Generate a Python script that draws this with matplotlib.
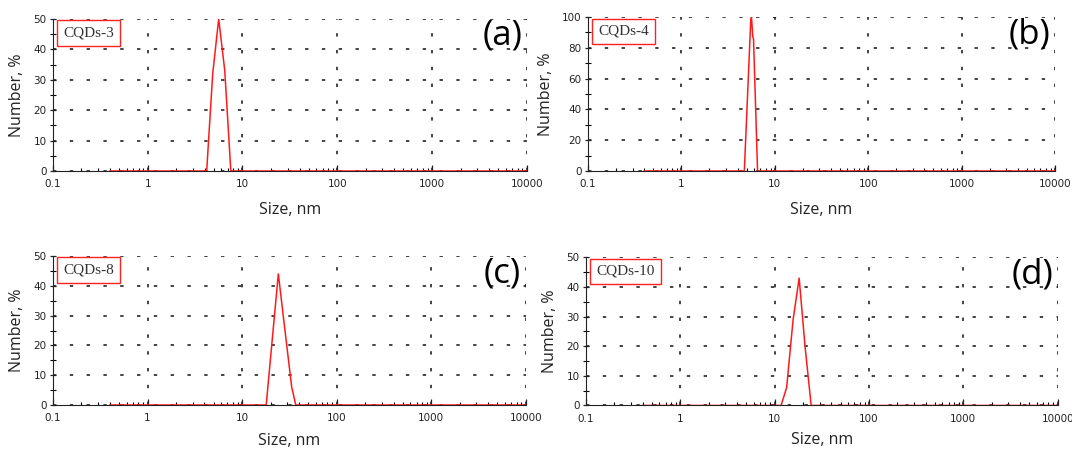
import numpy as np
import matplotlib
matplotlib.use('Agg')
import matplotlib.pyplot as plt
from matplotlib.ticker import FixedLocator, FixedFormatter, MultipleLocator

# DLS number distributions
size_a = [0.4, 4.19, 4.85, 5.61, 6.50, 7.53, 10000]
number_a = [0, 0, 32, 50, 33, 0, 0]

size_b = [0.4, 4.72, 5.53, 5.63, 5.82, 5.92, 6.54, 10000]
number_b = [0, 0, 98, 100, 87, 86, 0, 0]

size_c = [0.4, 18.0, 21.0, 24.2, 28.2, 33.5, 37.0, 10000]
number_c = [0, 0, 23, 44, 26, 6, 0, 0]

size_d = [0.4, 11.7, 13.4, 15.7, 18.2, 21.0, 24.4, 10000]
number_d = [0, 0, 6, 29, 43, 20, 0, 0]

samples = ['CQDs-3', 'CQDs-4', 'CQDs-8', 'CQDs-10']
letters = ['(a)', '(b)', '(c)', '(d)']
ymax = [50, 100, 50, 50]
x_ticks = [0.1, 1, 10, 100, 1000, 10000]
x_labels = ['0.1', '1', '10', '100', '1000', '10000']

panels = [(size_a, number_a), (size_b, number_b), (size_c, number_c), (size_d, number_d)]
# axes boxes in figure fractions [left, bottom, width, height]
boxes = [[0.0494, 0.620, 0.4420, 0.338],
         [0.5485, 0.620, 0.4356, 0.342],
         [0.0494, 0.100, 0.4410, 0.331],
         [0.5466, 0.0990, 0.4400, 0.329]]
xpad = [9, 9, 7, 6]

fig = plt.figure(figsize=(10.72, 4.5), dpi=100)
dots = (0, (2.2, 8.8))

for i in range(4):
    ax = fig.add_axes(boxes[i])
    x, y = panels[i]
    ax.plot(x, y, color='#ff1a1a', lw=1.1, zorder=3)
    ax.set_xscale('log')
    ax.set_xlim(0.1, 10000)
    ax.set_ylim(0, ymax[i])

    ax.xaxis.set_major_locator(FixedLocator(x_ticks))
    ax.xaxis.set_major_formatter(FixedFormatter(x_labels))
    ax.xaxis.set_minor_locator(FixedLocator([m * d for d in [0.1, 1, 10, 100, 1000] for m in range(2, 10)]))
    ax.yaxis.set_major_locator(MultipleLocator(ymax[i] / 5))
    ax.yaxis.set_minor_locator(MultipleLocator(ymax[i] / 10))

    ax.tick_params(axis='x', which='major', direction='in', length=4, width=0.9, labelsize=7.5, pad=6, colors='#222222')
    ax.tick_params(axis='x', which='minor', direction='in', length=2.5, width=0.8)
    ax.tick_params(axis='y', which='major', direction='inout', length=5, width=0.9, labelsize=7.5, pad=2, colors='#222222')
    ax.tick_params(axis='y', which='minor', direction='inout', length=4, width=0.8)

    ax.spines['top'].set_visible(False)
    ax.spines['right'].set_visible(False)
    ax.spines['left'].set_color('#222222')
    ax.spines['bottom'].set_color('#222222')
    ax.grid(True, which='major', color='#111111', linestyle=dots, linewidth=1.1)
    ax.set_axisbelow(True)
    ax.patch.set_alpha(0)

    ax.set_xlabel('Size, nm', fontsize=11.5, family='Open Sans', color='#222222', labelpad=xpad[i])
    ax.set_ylabel('Number, %', fontsize=11.5, family='Open Sans', color='#222222', labelpad=6)

    ax.text(0.022, 0.95, samples[i], transform=ax.transAxes, ha='left', va='top',
            fontsize=11, family='Liberation Serif', color='#333333',
            bbox=dict(boxstyle='square,pad=0.4', facecolor='white', edgecolor='#ff2020', linewidth=1.0))
    ax.text(0.99, 1.0, letters[i], transform=ax.transAxes, ha='right', va='top',
            fontsize=25, family='Open Sans', color='black')

fig.savefig('out.png', dpi=100)
